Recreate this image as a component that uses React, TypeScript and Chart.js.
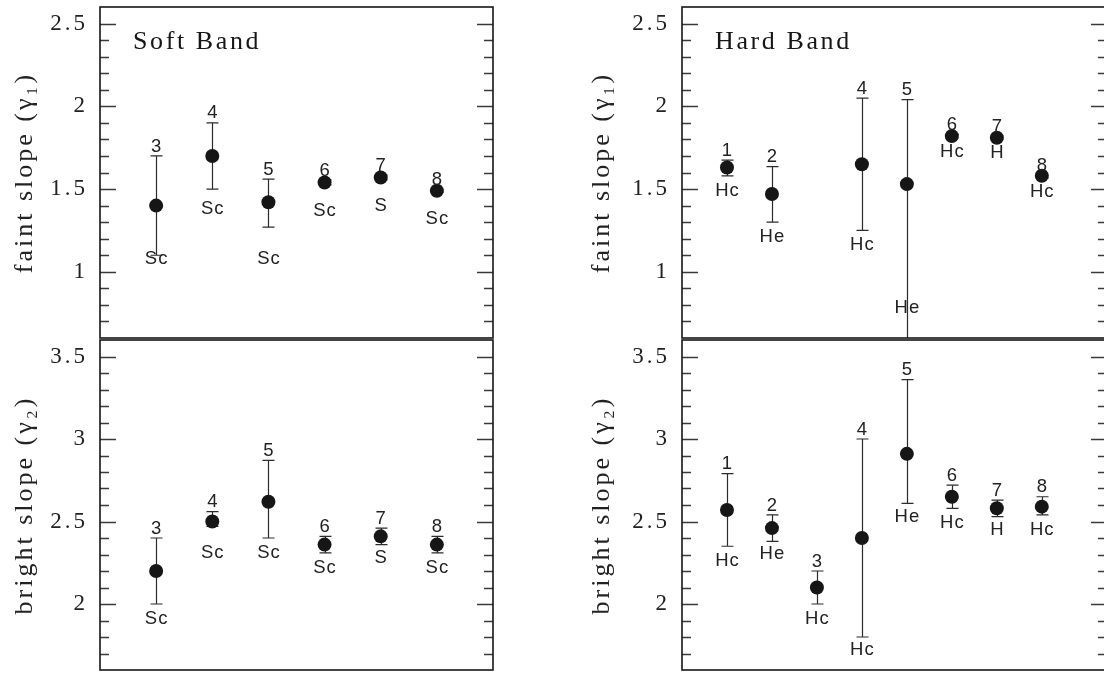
import React, { useEffect, useRef } from 'react';
import { Chart, registerables } from 'chart.js';

Chart.register(...registerables);

// ---------------- data ----------------
const softIds = [3, 4, 5, 6, 7, 8];
const softFaintSlope = [1.40, 1.70, 1.42, 1.54, 1.57, 1.49];
const softFaintLow = [1.10, 1.50, 1.27, 1.525, 1.555, 1.482];
const softFaintHigh = [1.70, 1.90, 1.56, 1.555, 1.585, 1.498];
const softFaintClass = ['Sc', 'Sc', 'Sc', 'Sc', 'S', 'Sc'];
const softFaintClassAt = [1.09, 1.39, 1.09, 1.38, 1.41, 1.33];

const softBrightSlope = [2.20, 2.50, 2.62, 2.36, 2.41, 2.36];
const softBrightLow = [2.00, 2.47, 2.40, 2.31, 2.36, 2.31];
const softBrightHigh = [2.40, 2.56, 2.87, 2.41, 2.46, 2.41];
const softBrightClass = ['Sc', 'Sc', 'Sc', 'Sc', 'S', 'Sc'];
const softBrightClassAt = [1.92, 2.32, 2.32, 2.23, 2.29, 2.23];

const hardFaintIds = [1, 2, 4, 5, 6, 7, 8];
const hardFaintSlope = [1.63, 1.47, 1.65, 1.53, 1.82, 1.81, 1.58];
const hardFaintLow = [1.58, 1.30, 1.25, 0.58, 1.81, 1.80, 1.566];
const hardFaintHigh = [1.675, 1.635, 2.05, 2.04, 1.83, 1.82, 1.585];
const hardFaintClass = ['Hc', 'He', 'Hc', 'He', 'Hc', 'H', 'Hc'];
const hardFaintClassAt = [1.50, 1.22, 1.17, 0.79, 1.735, 1.725, 1.49];

const hardBrightIds = [1, 2, 3, 4, 5, 6, 7, 8];
const hardBrightSlope = [2.57, 2.46, 2.10, 2.40, 2.91, 2.65, 2.58, 2.59];
const hardBrightLow = [2.35, 2.38, 2.00, 1.80, 2.61, 2.58, 2.53, 2.54];
const hardBrightHigh = [2.79, 2.54, 2.20, 3.00, 3.36, 2.72, 2.63, 2.65];
const hardBrightClass = ['Hc', 'He', 'Hc', 'Hc', 'He', 'Hc', 'H', 'Hc'];
const hardBrightClassAt = [2.27, 2.31, 1.92, 1.73, 2.54, 2.50, 2.46, 2.46];

const faintTickLabels = ['1', '1.5', '2', '2.5'];
const brightTickLabels = ['2', '2.5', '3', '3.5'];
const faintRange = [0.6, 2.6];
const brightRange = [1.6, 3.6];
const softXRange = [2, 9];
const hardXRange = [0, 9.45];

const faintTitle = 'faint slope (γ₁)';
const brightTitle = 'bright slope (γ₂)';

// ---------------- styling ----------------
const INK = '#161616';
const SERIF = '"Liberation Serif", "DejaVu Serif", serif';
const SANS = '"Liberation Sans", "DejaVu Sans", sans-serif';

type PanelSpec = {
  key: string;
  ids: number[];
  slope: number[];
  low: number[];
  high: number[];
  cls: string[];
  clsAt: number[];
  yRange: number[];
  xRange: number[];
  tickLabels: string[];
  title: string;
  band?: string;
  left: number;
  top: number;
  width: number;
  height: number;
  axisWidth: number;
  pad: { top: number; right: number; bottom: number };
};

const panels: PanelSpec[] = [
  {
    key: 'sf', ids: softIds, slope: softFaintSlope, low: softFaintLow, high: softFaintHigh,
    cls: softFaintClass, clsAt: softFaintClassAt, yRange: faintRange, xRange: softXRange,
    tickLabels: faintTickLabels, title: faintTitle, band: 'Soft Band',
    left: 0, top: 0, width: 500, height: 345, axisWidth: 100, pad: { top: 6, right: 6, bottom: 6 },
  },
  {
    key: 'sb', ids: softIds, slope: softBrightSlope, low: softBrightLow, high: softBrightHigh,
    cls: softBrightClass, clsAt: softBrightClassAt, yRange: brightRange, xRange: softXRange,
    tickLabels: brightTickLabels, title: brightTitle,
    left: 0, top: 333, width: 500, height: 344, axisWidth: 100, pad: { top: 6, right: 6, bottom: 4 },
  },
  {
    key: 'hf', ids: hardFaintIds, slope: hardFaintSlope, low: hardFaintLow, high: hardFaintHigh,
    cls: hardFaintClass, clsAt: hardFaintClassAt, yRange: faintRange, xRange: hardXRange,
    tickLabels: faintTickLabels, title: faintTitle, band: 'Hard Band',
    left: 577, top: 0, width: 537, height: 345, axisWidth: 105, pad: { top: 6, right: 6, bottom: 6 },
  },
  {
    key: 'hb', ids: hardBrightIds, slope: hardBrightSlope, low: hardBrightLow, high: hardBrightHigh,
    cls: hardBrightClass, clsAt: hardBrightClassAt, yRange: brightRange, xRange: hardXRange,
    tickLabels: brightTickLabels, title: brightTitle,
    left: 577, top: 333, width: 537, height: 344, axisWidth: 105, pad: { top: 6, right: 6, bottom: 4 },
  },
];

function makeDecor(p: PanelSpec) {
  return {
    id: 'panelDecor_' + p.key,
    beforeDraw(chart: any) {
      chart.ctx.letterSpacing = '3px';
    },
    beforeDatasetsDraw(chart: any) {
      const { ctx, chartArea: a, scales } = chart;
      const xs = scales.x;
      const ys = scales.y;
      ctx.save();
      ctx.beginPath();
      ctx.rect(a.left, a.top, a.right - a.left, a.bottom - a.top);
      ctx.clip();
      ctx.strokeStyle = '#2b2b2b';
      ctx.lineWidth = 1.2;
      p.ids.forEach((id, i) => {
        const x = Math.round(xs.getPixelForValue(id)) + 0.5;
        const y1 = ys.getPixelForValue(p.low[i]);
        const y2 = ys.getPixelForValue(p.high[i]);
        ctx.beginPath();
        ctx.moveTo(x, y1);
        ctx.lineTo(x, y2);
        ctx.moveTo(x - 6, y1);
        ctx.lineTo(x + 6, y1);
        ctx.moveTo(x - 6, y2);
        ctx.lineTo(x + 6, y2);
        ctx.stroke();
      });
      ctx.restore();
    },
    afterDatasetsDraw(chart: any) {
      const { ctx, chartArea: a, scales } = chart;
      const xs = scales.x;
      const ys = scales.y;
      ctx.save();
      // inward ticks, every 0.1, longer every 0.5
      ctx.strokeStyle = '#3a3a3a';
      ctx.lineWidth = 1.5;
      const lo = Math.round(p.yRange[0] * 10);
      const hi = Math.round(p.yRange[1] * 10);
      for (let k = lo + 1; k < hi; k++) {
        const y = Math.round(ys.getPixelForValue(k / 10)) + 0.5;
        const len = k % 5 === 0 ? 16 : 9;
        ctx.beginPath();
        ctx.moveTo(a.left, y);
        ctx.lineTo(a.left + len, y);
        ctx.moveTo(a.right, y);
        ctx.lineTo(a.right - len, y);
        ctx.stroke();
      }
      // frame
      ctx.strokeStyle = INK;
      ctx.lineWidth = 1.6;
      ctx.strokeRect(a.left, a.top, a.right - a.left, a.bottom - a.top);

      // annotation labels
      ctx.fillStyle = '#222';
      ctx.font = `18.5px ${SANS}`;
      ctx.letterSpacing = '1px';
      ctx.textAlign = 'center';
      ctx.textBaseline = 'alphabetic';
      const half = 18.5 * 0.716 / 2;
      p.ids.forEach((id, i) => {
        const x = xs.getPixelForValue(id) + 0.5;
        const yh = ys.getPixelForValue(p.high[i]);
        ctx.fillText(String(id), x, yh - 11 + half);
        const yc = ys.getPixelForValue(p.clsAt[i]);
        ctx.fillText(p.cls[i], x, yc + half);
      });

      if (p.band) {
        ctx.fillStyle = INK;
        ctx.font = `26px ${SERIF}`;
        ctx.letterSpacing = '2.6px';
        ctx.textAlign = 'left';
        ctx.fillText(p.band, a.left + 33, a.top + 42.3);
      }
      ctx.restore();
    },
  };
}

function Panel({ spec }: { spec: PanelSpec }) {
  const ref = useRef<HTMLCanvasElement | null>(null);
  useEffect(() => {
    if (!ref.current) return;
    const p = spec;
    const chart = new Chart(ref.current, {
      type: 'scatter',
      data: {
        datasets: [
          {
            data: p.ids.map((id, i) => ({ x: id, y: p.slope[i] })),
            pointRadius: 7,
            pointHoverRadius: 7,
            pointBackgroundColor: INK,
            pointBorderWidth: 0,
            showLine: false,
          },
        ],
      },
      options: {
        animation: false,
        responsive: false,
        devicePixelRatio: 1,
        events: [],
        layout: { padding: { left: 0, top: p.pad.top, right: p.pad.right, bottom: p.pad.bottom } },
        plugins: { legend: { display: false }, tooltip: { enabled: false } },
        scales: {
          x: { type: 'linear', display: false, min: p.xRange[0], max: p.xRange[1] },
          y: {
            type: 'linear',
            position: 'left',
            min: p.yRange[0],
            max: p.yRange[1],
            afterBuildTicks: (s: any) => {
              s.ticks = p.tickLabels.map((l) => ({ value: Number(l) }));
            },
            afterFit: (s: any) => {
              s.width = p.axisWidth;
              s.paddingTop = 0;
              s.paddingBottom = 0;
            },
            grid: { display: false, drawTicks: false },
            border: { display: false },
            ticks: {
              autoSkip: false,
              padding: 12,
              color: '#222',
              font: { family: SERIF, size: 23 },
              callback: (_v: any, idx: number) => p.tickLabels[idx],
            },
            title: {
              display: true,
              text: p.title,
              color: '#222',
              font: { family: SERIF, size: 26 },
              padding: { top: 9.5, bottom: 0 },
            },
          },
        },
      },
      plugins: [makeDecor(p)],
    } as any);
    return () => chart.destroy();
  }, [spec]);
  return (
    <canvas
      ref={ref}
      width={spec.width}
      height={spec.height}
      style={{ position: 'absolute', left: spec.left, top: spec.top, width: spec.width, height: spec.height }}
    />
  );
}

export default function App() {
  return (
    <div
      style={{
        position: 'absolute',
        left: 0,
        top: 0,
        width: 1104,
        height: 677,
        overflow: 'hidden',
        background: '#ffffff',
      }}
    >
      {panels.map((p) => (
        <Panel key={p.key} spec={p} />
      ))}
    </div>
  );
}
